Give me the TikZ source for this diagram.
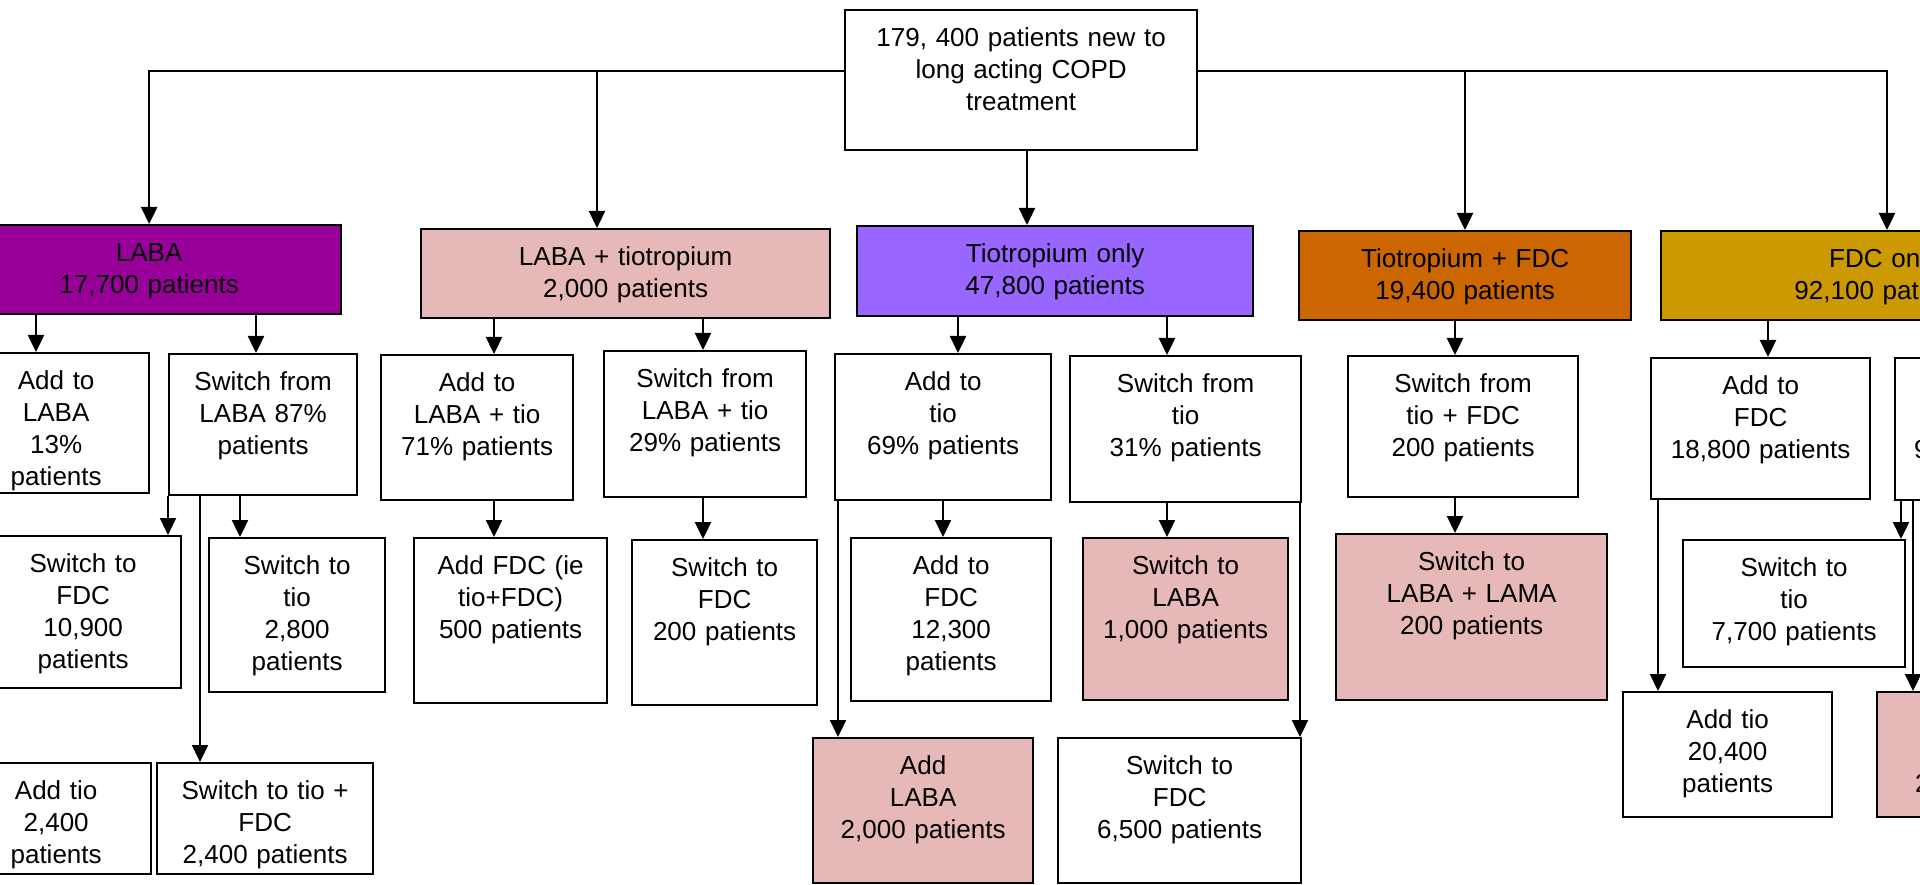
\documentclass[tikz,border=0pt]{standalone}
\usepackage{fontspec}
\setmainfont{Liberation Sans}
\usetikzlibrary{arrows.meta}
\definecolor{labapurple}{RGB}{153,0,153}
\definecolor{combopink}{RGB}{230,184,183}
\definecolor{tioviolet}{RGB}{153,102,255}
\definecolor{tiofdcorange}{RGB}{204,102,0}
\definecolor{fdcgold}{RGB}{204,153,0}
\tikzset{
    cell/.style 2 args={draw=black, line width=0.65pt, rectangle, anchor=north west,
        inner sep=0pt, text width=#1*0.01cm, align=center,
        text height=0.36cm, text depth=#2*0.01cm-0.36cm},
    arr/.style={line width=0.65pt, -{Triangle[length=0.17cm,width=0.16cm]}}
}
\begin{document}
\begin{tikzpicture}[x=0.01cm, y=-0.01cm, font=\fontsize{7.4pt}{9.1pt}\selectfont]
        \useasboundingbox[fill=white] (0,0) rectangle (1920,884);
        % Nodes
        \node[cell={352}{140}] (start) at (844,9) {179, 400 patients new to\\ long acting COPD\\ treatment};

        \node[cell={384}{89}, fill=labapurple] (laba) at (-44,224) {LABA\\ 17,700 patients};
        \node[cell={409}{89}, fill=combopink] (labatio) at (420,228) {LABA + tiotropium\\ 2,000 patients};
        \node[cell={396}{90}, fill=tioviolet] (tio) at (856,225) {Tiotropium only\\ 47,800 patients};
        \node[cell={332}{89}, fill=tiofdcorange] (tiofdc) at (1298,230) {Tiotropium + FDC\\ 19,400 patients};
        \node[cell={446}{89}, fill=fdcgold] (fdc) at (1660,230) {FDC only\\ 92,100 patients};

        \node[cell={186}{140}] (addlaba) at (-38,352) {Add to\\ LABA\\ 13\%\\ patients};
        \node[cell={188}{141}] (swlaba) at (168,353) {Switch from\\ LABA 87\%\\ patients};
        \node[cell={192}{145}] (addlt) at (380,354) {Add to\\ LABA + tio\\ 71\% patients};
        \node[cell={202}{146}] (swlt) at (603,350) {Switch from\\ LABA + tio\\ 29\% patients};
        \node[cell={216}{146}] (addtio) at (834,353) {Add to\\ tio\\ 69\% patients};
        \node[cell={231}{146}] (swtio) at (1069,355) {Switch from\\ tio\\ 31\% patients};
        \node[cell={230}{141}] (swtf) at (1347,355) {Switch from\\ tio + FDC\\ 200 patients};
        \node[cell={219}{141}] (addf) at (1650,357) {Add to\\ FDC\\ 18,800 patients};
        \node[cell={240}{142}, align=left, text height=1cm, text depth=0.42cm] (swf) at (1894,357) {\hspace*{0.19cm}9};

        \node[cell={196}{152}] (swfdc1) at (-16,535) {Switch to\\ FDC\\ 10,900\\ patients};
        \node[cell={176}{154}] (swtio1) at (208,537) {Switch to\\ tio\\ 2,800\\ patients};
        \node[cell={193}{165}] (addfdc) at (413,537) {Add FDC (ie\\ tio+FDC)\\ 500 patients};
        \node[cell={185}{165}] (swfdc2) at (631,539) {Switch to\\ FDC\\ 200 patients};
        \node[cell={200}{163}] (addfdc12) at (850,537) {Add to\\ FDC\\ 12,300\\ patients};
        \node[cell={205}{162}, fill=combopink] (swlaba2) at (1082,537) {Switch to\\ LABA\\ 1,000 patients};
        \node[cell={271}{166}, fill=combopink] (swll) at (1335,533) {Switch to\\ LABA + LAMA\\ 200 patients};
        \node[cell={222}{127}] (swtio20) at (1682,539) {Switch to\\ tio\\ 7,700 patients};

        \node[cell={190}{111}] (addtio1) at (-40,762) {Add tio\\ 2,400\\ patients};
        \node[cell={216}{111}] (swtiofdc) at (156,762) {Switch to tio +\\ FDC\\ 2,400 patients};
        \node[cell={220}{145}, fill=combopink] (addlaba2) at (812,737) {Add\\ LABA\\ 2,000 patients};
        \node[cell={243}{145}] (swfdc3) at (1057,737) {Switch to\\ FDC\\ 6,500 patients};
        \node[cell={209}{125}] (addtio20) at (1622,691) {Add tio\\ 20,400\\ patients};
        \node[cell={240}{125}, fill=combopink, align=left, text height=1cm, text depth=0.25cm] (pinkr) at (1876,691) {\hspace*{0.38cm}2};

        % Arrows
        \coordinate (jleft) at (597,71);
        \coordinate (jright) at (1465,71);
        \draw[arr] (start.west |- jleft) -| (laba.north);
        \draw[arr] (jleft) -- (jleft |- labatio.north);
        \draw[arr] (start.south -| 1027,0) -- (tio.north -| 1027,0);
        \draw[arr] (jright) -- (jright |- tiofdc.north);
        \draw[arr] (start.east |- jright) -| (fdc.north -| 1887,0);

        \draw[arr] (laba.south -| 36,0) -- (addlaba.north -| 36,0);
        \draw[arr] (laba.south -| 256,0) -- (swlaba.north -| 256,0);
        \draw[arr] (swlaba.south -| 168,0) -- (swfdc1.north -| 168,0);
        \draw[arr] (swlaba.south -| 240,0) -- (swtio1.north -| 240,0);
        \draw[arr] (swlaba.south -| 200,0) -- (swtiofdc.north -| 200,0);

        \draw[arr] (labatio.south -| 494,0) -- (addlt.north -| 494,0);
        \draw[arr] (labatio.south -| 703,0) -- (swlt.north -| 703,0);
        \draw[arr] (addlt.south -| 494,0) -- (addfdc.north -| 494,0);
        \draw[arr] (swlt.south -| 703,0) -- (swfdc2.north -| 703,0);

        \draw[arr] (tio.south -| 958,0) -- (addtio.north -| 958,0);
        \draw[arr] (tio.south -| 1167,0) -- (swtio.north -| 1167,0);
        \draw[arr] (addtio.south -| 943,0) -- (addfdc12.north -| 943,0);
        \draw[arr] (addtio.south -| 838,0) -- (addlaba2.north -| 838,0);
        \draw[arr] (swtio.south -| 1167,0) -- (swlaba2.north -| 1167,0);
        \draw[arr] (swtio.south -| 1300,0) -- (swfdc3.north -| 1300,0);

        \draw[arr] (tiofdc.south -| 1455,0) -- (swtf.north -| 1455,0);
        \draw[arr] (swtf.south -| 1455,0) -- (swll.north -| 1455,0);

        \draw[arr] (fdc.south -| 1768,0) -- (addf.north -| 1768,0);
        \draw[arr] (addf.south -| 1658,0) -- (addtio20.north -| 1658,0);
        \draw[arr] (swf.south -| 1901,0) -- (swtio20.north -| 1901,0);
        \draw[arr] (swf.south -| 1913,0) -- (pinkr.north -| 1913,0);
\end{tikzpicture}
\end{document}
